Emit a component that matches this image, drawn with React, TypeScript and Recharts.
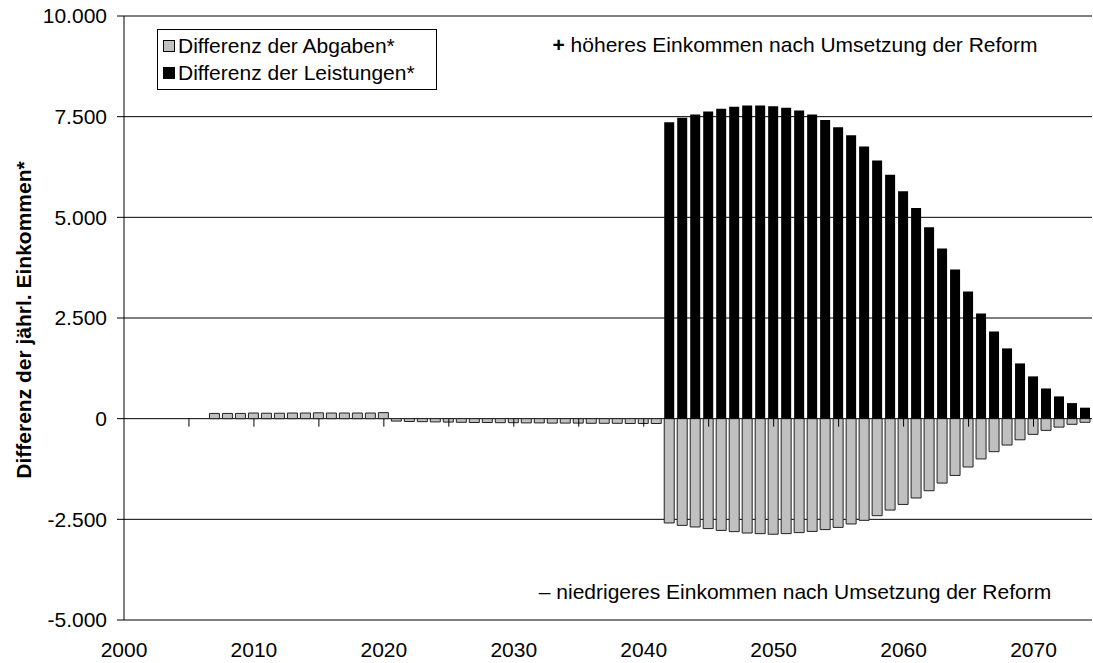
import React from 'react';
import { Bar, CartesianGrid, ComposedChart, Legend, Scatter, XAxis, YAxis } from 'recharts';

// Jahre mit Balken
const years = [
  2007, 2008, 2009, 2010, 2011, 2012, 2013, 2014, 2015, 2016, 2017, 2018, 2019, 2020,
  2021, 2022, 2023, 2024, 2025, 2026, 2027, 2028, 2029, 2030, 2031, 2032, 2033, 2034,
  2035, 2036, 2037, 2038, 2039, 2040, 2041, 2042, 2043, 2044, 2045, 2046, 2047, 2048,
  2049, 2050, 2051, 2052, 2053, 2054, 2055, 2056, 2057, 2058, 2059, 2060, 2061, 2062,
  2063, 2064, 2065, 2066, 2067, 2068, 2069, 2070, 2071, 2072, 2073, 2074
];

// Differenz der Abgaben* (2007-2074)
const abgaben = [
  130, 130, 130, 140, 135, 135, 140, 140, 145, 140, 140, 140, 140, 150,
  -60, -70, -75, -80, -85, -90, -95, -95, -100, -100, -105, -105, -110, -110,
  -110, -115, -115, -115, -120, -120, -120,
  -2590, -2650, -2690, -2730, -2775, -2805, -2840, -2855, -2870, -2855, -2830, -2800,
  -2755, -2700, -2615, -2525, -2410, -2270, -2130, -1970, -1790, -1600, -1410, -1200,
  -1000, -820, -655, -525, -390, -290, -210, -140, -90
];

// Differenz der Leistungen* (ab 2042)
const leistungenStart = 2042;
const leistungen = [
  7360, 7470, 7555, 7630, 7695, 7745, 7780, 7780, 7760, 7720, 7655, 7555, 7420, 7240,
  7040, 6760, 6410, 6055, 5650, 5230, 4755, 4228, 3704, 3160, 2614, 2167, 1745, 1372,
  1050, 750, 553, 387, 273
];

const xTicks = [2000, 2010, 2020, 2030, 2040, 2050, 2060, 2070];
const yTicks = [-5000, -2500, 0, 2500, 5000, 7500, 10000];
const zeroAxisTicks = [2005, 2010, 2015, 2020, 2025, 2030, 2035, 2040, 2045, 2050, 2055, 2060, 2065, 2070];

const FONT = '"Liberation Sans", Arial, sans-serif';
const GRAY = '#c0c0c0';

const data = years.map((year, i) => ({
  year,
  abgaben: abgaben[i],
  leistungen: year >= leistungenStart ? leistungen[year - leistungenStart] : 0
}));

const tickMarks = zeroAxisTicks.map((year) => ({ year, v: 0 }));

const fmt = (v: number) => {
  const s = Math.abs(v).toString().replace(/\B(?=(\d{3})+(?!\d))/g, '.');
  return v < 0 ? '-' + s : s;
};

const ZeroTick = (props: any) => {
  const { cx, cy } = props;
  return <line x1={cx} y1={cy} x2={cx} y2={cy + 8} stroke="#000" strokeWidth={1} />;
};

const legendItems = [
  { label: 'Differenz der Abgaben*', color: GRAY },
  { label: 'Differenz der Leistungen*', color: '#000' }
];

const renderLegend = () => (
  <div
    style={{
      border: '1px solid #000',
      background: '#fff',
      width: 278,
      height: 59,
      boxSizing: 'content-box',
      fontFamily: FONT,
      fontSize: 21,
      color: '#000'
    }}
  >
    {legendItems.map((item, i) => (
      <div key={i} style={{ display: 'flex', alignItems: 'center', height: 27, marginTop: i === 0 ? 2 : 0, paddingLeft: 5 }}>
        <span
          style={{
            display: 'inline-block',
            width: 10,
            height: 10,
            background: item.color,
            border: '1px solid #000',
            marginRight: 3
          }}
        />
        <span style={{ whiteSpace: 'nowrap' }}>{item.label}</span>
      </div>
    ))}
  </div>
);

const YLabel = (props: any) => {
  const { viewBox } = props;
  const cx = viewBox.x + 23.5;
  const cy = viewBox.y + viewBox.height / 2 + 2;
  return (
    <text
      x={cx}
      y={cy}
      transform={`rotate(-90 ${cx} ${cy})`}
      textAnchor="middle"
      dominantBaseline="central"
      fontFamily={FONT}
      fontWeight="bold"
      fontSize={21}
      fill="#000"
    >
      Differenz der jährl. Einkommen*
    </text>
  );
};

const noteStyle: React.CSSProperties = {
  position: 'absolute',
  left: 495,
  width: 600,
  textAlign: 'center',
  fontSize: 21,
  color: '#000',
  whiteSpace: 'nowrap',
  lineHeight: '24px'
};

export default function App() {
  return (
    <div style={{ position: 'absolute', left: 0, top: 0, width: 1093, height: 663, background: '#fff', fontFamily: FONT }}>
      <ComposedChart
        width={1093}
        height={663}
        data={data}
        stackOffset="sign"
        margin={{ top: 16, right: 1, left: 0, bottom: 0 }}
      >
        <CartesianGrid vertical={false} stroke="#000" strokeWidth={1} />
        <XAxis
          type="number"
          dataKey="year"
          domain={[2000, 2074.5]}
          ticks={xTicks}
          interval={0}
          allowDataOverflow
          axisLine={false}
          tickLine={false}
          tickSize={0}
          tickMargin={22}
          height={43}
          tick={{ fontSize: 21, fill: '#000', fontFamily: FONT }}
        />
        <YAxis
          type="number"
          domain={[-5000, 10000]}
          ticks={yTicks}
          interval={0}
          allowDataOverflow
          width={124}
          tickSize={7}
          tickMargin={10}
          tickFormatter={fmt}
          axisLine={{ stroke: '#000' }}
          tickLine={{ stroke: '#000' }}
          tick={{ fontSize: 21, fill: '#000', fontFamily: FONT }}
          label={{ content: YLabel }}
        />
        <Legend
          layout="vertical"
          align="center"
          verticalAlign="middle"
          content={renderLegend}
          wrapperStyle={{ position: 'absolute', left: 157, top: 29, width: 280, height: 61 }}
        />
        <Bar dataKey="abgaben" stackId="s" fill={GRAY} stroke="#222" strokeWidth={1} barSize={10} isAnimationActive={false} />
        <Bar dataKey="leistungen" stackId="s" fill="#000" barSize={10} isAnimationActive={false} />
        <Scatter data={tickMarks} dataKey="v" shape={ZeroTick} isAnimationActive={false} legendType="none" />
      </ComposedChart>
      <div style={{ ...noteStyle, top: 33 }}>
        <span style={{ fontWeight: 'bold' }}>+</span> höheres Einkommen nach Umsetzung der Reform
      </div>
      <div style={{ ...noteStyle, top: 580 }}>
        – niedrigeres Einkommen nach Umsetzung der Reform
      </div>
    </div>
  );
}
